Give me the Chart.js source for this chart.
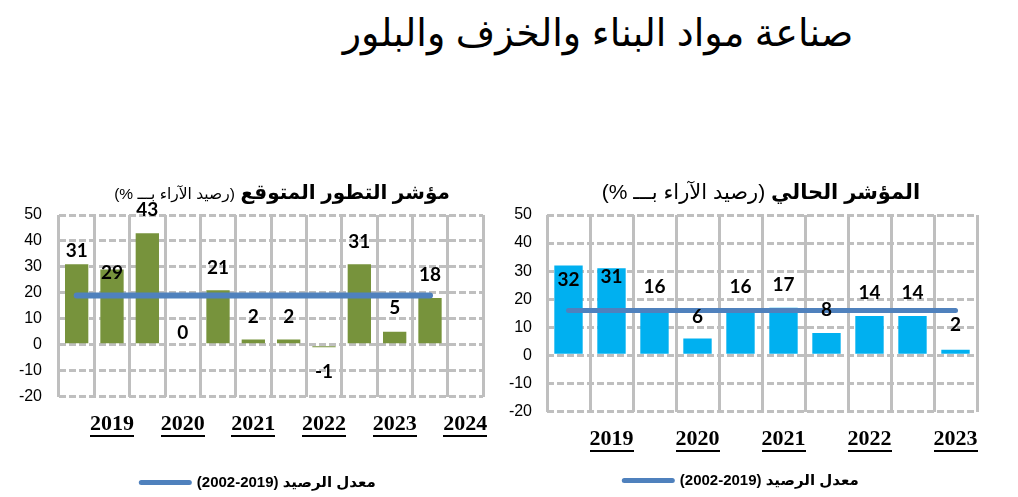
<!DOCTYPE html>
<html lang="ar">
<head>
<meta charset="utf-8">
<title>صناعة مواد البناء والخزف والبلور</title>
<script src="https://cdn.jsdelivr.net/npm/chart.js@4"></script>
<style>
	body { margin: 0; background: #fff; }
	#page { position: relative; width: 1018px; height: 497px; overflow: hidden; }
	.box { position: absolute; top: 200px; height: 300px; }
	#leftBox { left: 0; width: 500px; }
	#rightBox { left: 500px; width: 518px; }
	.txt { position: absolute; text-align: center; white-space: nowrap; color: #000;
		font-family: "Liberation Sans", "DejaVu Sans", sans-serif; }
	#mainTitle { left: 298px; width: 600px; top: 8px; font-size: 38px; line-height: 50px; }
	#leftTitle { left: 32px; width: 500px; top: 180px; font-size: 20px; line-height: 24px; font-weight: bold; }
	#leftTitle span { font-size: 15.5px; font-weight: normal; }
	#rightTitle { left: 511px; width: 500px; top: 178px; font-size: 21px; line-height: 28px; font-weight: bold; }
	#rightTitle span { font-weight: normal; }
</style>
</head>
<body>
<div id="page">
	<div class="box" id="leftBox"><canvas id="expectedChart"></canvas></div>
	<div class="box" id="rightBox"><canvas id="currentChart"></canvas></div>
	<div class="txt" id="mainTitle" dir="rtl">صناعة مواد البناء والخزف والبلور</div>
	<div class="txt" id="leftTitle" dir="rtl">مؤشر التطور المتوقع <span>(رصيد الآراء بـــ %)</span></div>
	<div class="txt" id="rightTitle" dir="rtl">المؤشر الحالي <span>(رصيد الآراء بـــ %)</span></div>
</div>
<script>
"use strict";

// data
var expectedTicks = ['', '2019', '', '2020', '', '2021', '', '2022', '', '2023', '', '2024'];
var expectedValues = [31, 29, 43, 0, 21, 2, 2, -1, 31, 5, 18, null];
var expectedAvg = [19, 19, 19, 19, 19, 19, 19, 19, 19, 19, 19, null];

var currentTicks = ['', '2019', '', '2020', '', '2021', '', '2022', '', '2023'];
var currentValues = [32, 31, 16, 6, 16, 17, 8, 14, 14, 2];
var currentAvg = [16, 16, 16, 16, 16, 16, 16, 16, 16, 16];

var yTicks = [50, 40, 30, 20, 10, 0, -10, -20];
// RLE ... PDF keeps the arabic label in right-to-left order inside the canvas
var avgLabel = '\u202B' + 'معدل الرصيد (2019-2002)' + '\u202C';

var arabicFont = "'Liberation Sans', 'DejaVu Sans', sans-serif";

// value labels above the bars
var barValues = {
	id: 'barValues',
	afterDatasetsDraw: function (chart, args, opts) {
		var ctx = chart.ctx;
		var meta = chart.getDatasetMeta(1);
		var vals = chart.data.datasets[1].data;
		ctx.save();
		ctx.font = 'bold 19px Lato';
		ctx.fillStyle = '#000';
		ctx.textAlign = 'center';
		ctx.textBaseline = 'middle';
		meta.data.forEach(function (bar, i) {
			var v = vals[i];
			if (v === null || v === undefined) return;
			var lift = opts.lift[i];
			var y = v < 0 ? bar.y + lift : bar.y - lift;
			ctx.fillText(String(v), bar.x, y);
		});
		ctx.restore();
	}
};

// underline the year labels
var underlineTicks = {
	id: 'underlineTicks',
	afterDraw: function (chart) {
		var sc = chart.scales.x;
		var ctx = chart.ctx;
		var size = sc.options.ticks.font.size;
		var mid = sc.top + sc.options.ticks.padding + size * 0.6;
		ctx.save();
		ctx.font = 'bold ' + size + 'px "Liberation Serif"';
		ctx.fillStyle = '#000';
		chart.data.labels.forEach(function (lab, i) {
			if (!lab) return;
			var w = ctx.measureText(lab).width;
			var x = sc.getPixelForTick(i);
			ctx.fillRect(Math.round(x - w / 2), Math.round(mid + 10), Math.round(w), 2);
		});
		ctx.restore();
	}
};

// nudge the legend sideways so it sits where the original has it
var legendShift = {
	id: 'legendShift',
	afterLayout: function (chart, args, opts) {
		if (!chart.legend) return;
		chart.legend.left += opts.dx;
		chart.legend.right += opts.dx;
	}
};

function makeChart(id, labels, values, avg, barColor, lineWidth, set) {
	var ctx = document.getElementById(id);
	var data = {
		labels: labels,
		datasets: [{
			type: 'line',
			label: avgLabel,
			data: avg,
			borderColor: '#4F81BD',
			backgroundColor: '#4F81BD',
			borderWidth: lineWidth,
			borderCapStyle: 'round',
			pointRadius: 0,
			pointStyle: 'line',
			fill: false,
			order: 0
		}, {
			type: 'bar',
			label: 'values',
			data: values,
			backgroundColor: barColor,
			borderWidth: 0,
			categoryPercentage: 1,
			barPercentage: 0.66,
			order: 1
		}]
	};
	var config = {
		type: 'bar',
		data: data,
		options: {
			responsive: true,
			maintainAspectRatio: false,
			animation: false,
			events: [],
			layout: { padding: set.padding },
			plugins: {
				tooltip: { enabled: false },
				legend: {
					position: 'bottom',
					labels: {
						usePointStyle: true,
						pointStyle: 'line',
						pointStyleWidth: 48,
						padding: 10,
						color: '#000',
						font: { family: arabicFont, size: 15, weight: 'bold' },
						generateLabels: function (chart) {
							var items = Chart.defaults.plugins.legend.labels.generateLabels(chart);
							return items.filter(function (it) {
								return it.datasetIndex === 0;
							}).map(function (it) {
								it.lineCap = 'round';
								it.lineWidth = 5;
								it.strokeStyle = '#4F81BD';
								return it;
							});
						}
					}
				},
				barValues: { lift: set.lift },
				legendShift: { dx: set.legendDx }
			},
			scales: {
				x: {
					grid: { color: '#BFBFBF', lineWidth: 3, drawTicks: false, offset: true },
					border: { display: false },
					ticks: {
						autoSkip: false,
						maxRotation: 0,
						padding: 15,
						color: '#000',
						font: { family: 'Liberation Serif', size: 22, weight: 'bold' }
					},
					afterFit: function (s) {
						s.height = set.xHeight;
						s.paddingLeft = 0;
						s.paddingRight = 0;
					}
				},
				y: {
					min: yTicks[yTicks.length - 1],
					max: yTicks[0],
					grid: { color: '#BFBFBF', lineWidth: 3, drawTicks: false },
					border: { display: false, dash: [7, 3] },
					ticks: {
						stepSize: yTicks[0] - yTicks[1],
						padding: set.yPad,
						color: '#000',
						font: { family: 'Liberation Sans', size: 16 }
					},
					afterFit: function (s) {
						s.width = set.yWidth;
						s.paddingTop = 0;
						s.paddingBottom = 0;
					}
				}
			}
		},
		plugins: [barValues, underlineTicks, legendShift]
	};
	return new Chart(ctx, config);
}

makeChart('expectedChart', expectedTicks, expectedValues, expectedAvg, '#77933C', 6, {
	padding: { top: 15, left: 0, right: 17, bottom: 0 },
	xHeight: 68.5,
	yWidth: 59,
	yPad: 17,
	legendDx: 17,
	lift: [13, -3, 23, 12, 22, 23, 23, 25, 22, 24, 23, 0]
});

makeChart('currentChart', currentTicks, currentValues, currentAvg, '#00B0F0', 5, {
	padding: { top: 15, left: 0, right: 41, bottom: 2 },
	xHeight: 51.5,
	yWidth: 47,
	yPad: 15,
	legendDx: 3,
	lift: [-14, -9, 24, 22, 24, 23, 23, 23, 23, 25]
});
</script>
</body>
</html>
